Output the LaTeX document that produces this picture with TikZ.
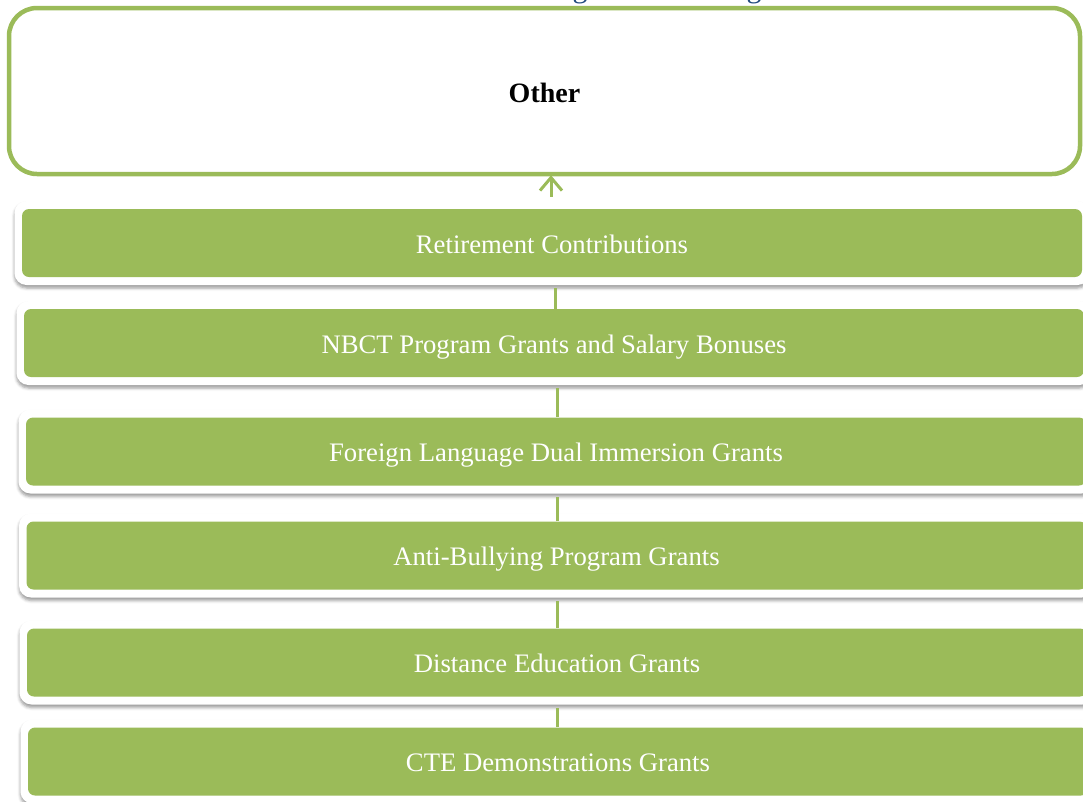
\documentclass[tikz,border=0pt]{standalone}
\usepackage{fontspec}
\setmainfont{Liberation Serif}
\usetikzlibrary{arrows.meta,shadows.blur,calc}
\definecolor{ogreen}{HTML}{9BBB59}
\definecolor{tblue}{HTML}{1F497D}
\tikzset{
  frame/.style={rectangle, fill=white, rounded corners=12pt, minimum width=1075pt, minimum height=84pt, inner sep=0pt,
    blur shadow={shadow xshift=0pt, shadow yshift=-3pt, shadow blur radius=3pt, shadow opacity=40}},
  bar/.style={rectangle, fill=ogreen, rounded corners=7pt, minimum width=1060pt, minimum height=68pt, inner sep=0pt,
    text=white, font=\fontsize{26.7}{30}\selectfont, text height=22pt, text depth=2pt},
  otherbox/.style={rectangle, draw=ogreen, line width=4.5pt, fill=white, rounded corners=28pt,
    minimum width=1071pt, minimum height=166pt, inner sep=0pt},
  otxt/.style={font=\fontsize{28}{32}\selectfont\bfseries, inner sep=0pt},
  conn/.style={draw=ogreen, line width=3pt},
  arr/.style={draw=ogreen, line width=3pt, -{Straight Barb[length=13pt,width=22pt,line width=3pt]}},
  ttl/.style={text=tblue, font=\fontsize{30}{34}\selectfont, inner sep=0pt, anchor=base}
}
\begin{document}
\begin{tikzpicture}[x=1pt,y=-1pt]
\useasboundingbox (0,0) rectangle (1083,801);
% cut-off title descenders
\node[ttl] (g1) at (580,-3) {g};
\node[ttl] (g2) at (754,-3) {g};
% Other box
\node[otherbox] (other) at (544.5,91) {};
\node[otxt] (otext) at (544.5,93) {Other};
% frames and bars
\node[frame] (f1) at (552,243) {};
\node[bar]   (b1) at (552,243) {Retirement Contributions};
\node[frame] (f2) at (554,343) {};
\node[bar]   (b2) at (554,343) {NBCT Program Grants and Salary Bonuses};
\node[frame] (f3) at (556,451.5) {};
\node[bar]   (b3) at (556,451.5) {Foreign Language Dual Immersion Grants};
\node[frame] (f4) at (556.5,555.5) {};
\node[bar]   (b4) at (556.5,555.5) {Anti-Bullying Program Grants};
\node[frame] (f5) at (557,662.5) {};
\node[bar]   (b5) at (557,662.5) {Distance Education Grants};
\node[frame] (f6) at (558,761.5) {};
\node[bar]   (b6) at (558,761.5) {CTE Demonstrations Grants};
% connectors
\draw[conn] ([xshift=1pt]b2.north) -- ([xshift=1pt,yshift=-3pt]b2.north |- f1.south);
\draw[conn] ([xshift=1pt]b3.north) -- ([xshift=1pt,yshift=-3pt]b3.north |- f2.south);
\draw[conn] ([xshift=0.5pt]b4.north) -- ([xshift=0.5pt,yshift=-3pt]b4.north |- f3.south);
\draw[conn] (b5.north) -- ([yshift=-3pt]b5.north |- f4.south);
\draw[conn] ([xshift=-1pt]b6.north) -- ([xshift=-1pt,yshift=-3pt]b6.north |- f5.south);
\draw[arr] ([xshift=-1pt,yshift=4pt]f1.north) -- ([xshift=-1pt,yshift=1pt]f1.north |- other.south);
\end{tikzpicture}
\end{document}
